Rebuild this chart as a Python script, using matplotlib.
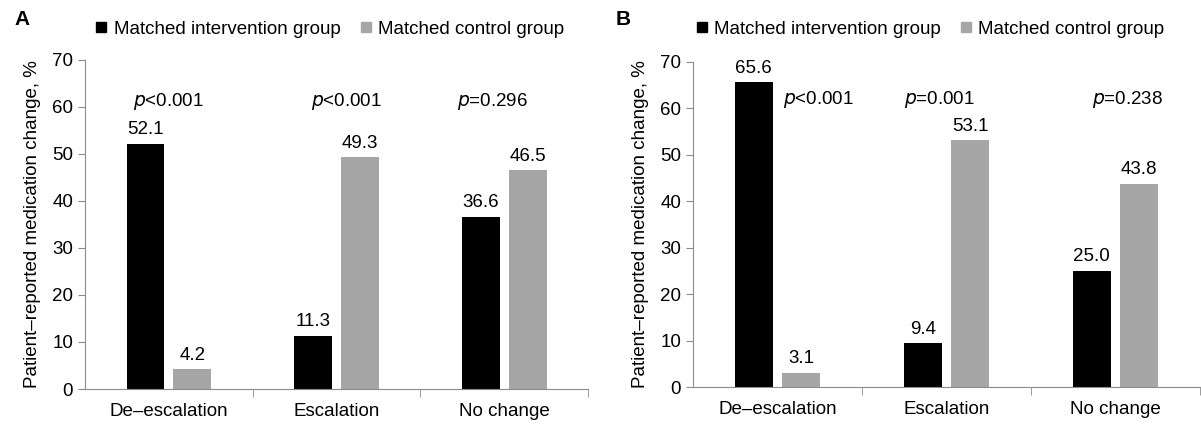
import numpy as np
import matplotlib.pyplot as plt
from matplotlib.lines import Line2D

plt.rcParams['font.family'] = ['Liberation Sans', 'DejaVu Sans']

categories = ['De\u2013escalation', 'Escalation', 'No change']
a_interv = [52.1, 11.3, 36.6]
a_control = [4.2, 49.3, 46.5]
a_pvals = ['<0.001', '<0.001', '=0.296']
b_interv = [65.6, 9.4, 25.0]
b_control = [3.1, 53.1, 43.8]
b_pvals = ['<0.001', '=0.001', '=0.238']

BLACK = '#000000'
GRAY = '#a6a6a6'
AXC = '#8c8c8c'
FS = 13.5

fig = plt.figure(figsize=(12.01, 4.33), dpi=100)
axA = fig.add_axes([0.0708, 0.1016, 0.4188, 0.76])
axB = fig.add_axes([0.577, 0.106, 0.422, 0.751])


def draw(ax, interv, control, pvals, p_off, p_y):
    x = np.arange(len(categories))
    w = 0.225
    ax.bar(x - 0.14, interv, w, color=BLACK)
    ax.bar(x + 0.14, control, w, color=GRAY)
    for xi, v in zip(x, interv):
        ax.text(xi - 0.14, v + 1.2, f'{v:.1f}', ha='center', va='bottom', fontsize=FS)
    for xi, v in zip(x, control):
        ax.text(xi + 0.14, v + 1.2, f'{v:.1f}', ha='center', va='bottom', fontsize=FS)
    for xi, p, o in zip(x, pvals, p_off):
        ax.text(xi + o, p_y, r'$\it{p}$' + p, ha='center', va='center', fontsize=FS)
    ax.set_xlim(-0.5, 2.5)
    ax.set_ylim(0, 70)
    ax.set_yticks(range(0, 71, 10))
    ax.set_xticks(x)
    ax.set_xticklabels(categories, fontsize=FS)
    ax.tick_params(axis='x', length=0, pad=10)
    ax.set_xticks([0.5, 1.5, 2.5], minor=True)
    ax.tick_params(axis='x', which='minor', length=6, color=AXC)
    ax.tick_params(axis='y', labelsize=FS, length=5, color=AXC)
    for s in ['top', 'right']:
        ax.spines[s].set_visible(False)
    for s in ['left', 'bottom']:
        ax.spines[s].set_color(AXC)
    ax.set_ylabel('Patient\u2013reported medication change, %', fontsize=FS, labelpad=8)


draw(axA, a_interv, a_control, a_pvals, [0.0, 0.06, -0.07], 61.2)
draw(axB, b_interv, b_control, b_pvals, [0.24, -0.04, 0.07], 62.0)

handles = [Line2D([], [], marker='s', color=BLACK, linestyle='none', markersize=6.5),
           Line2D([], [], marker='s', color=GRAY, linestyle='none', markersize=6.5)]
labels = ['Matched intervention group', 'Matched control group']
for lx in [0.079, 0.579]:
    fig.legend(handles, labels, loc='center left', bbox_to_anchor=(lx, 0.932), ncol=2,
               frameon=False, fontsize=FS, handlelength=0.7, handletextpad=0.3,
               columnspacing=1.0, borderaxespad=0, borderpad=0)

fig.text(0.012, 0.955, 'A', fontsize=15, fontweight='bold', va='center')
fig.text(0.513, 0.955, 'B', fontsize=15, fontweight='bold', va='center')

fig.savefig('out.png', dpi=100)
